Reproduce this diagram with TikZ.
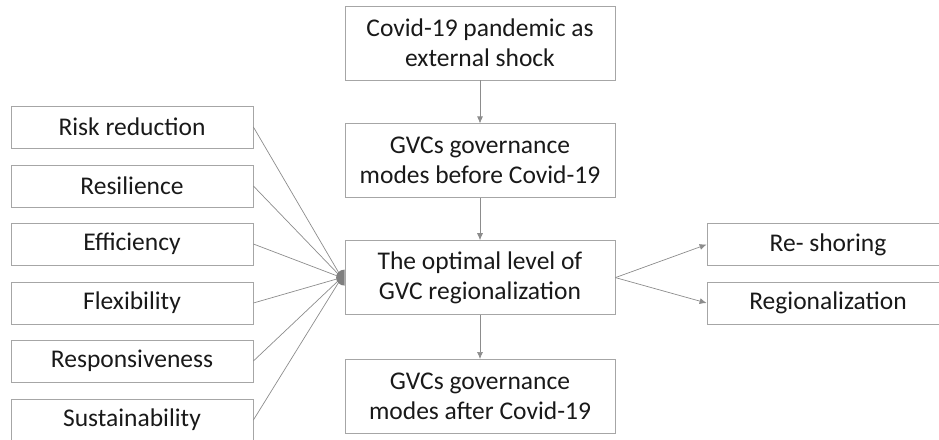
\documentclass[tikz,border=0pt]{standalone}
\usepackage{fontspec}
\setmainfont{Carlito}
\usetikzlibrary{arrows.meta,positioning}
\definecolor{boxgray}{HTML}{A6A6A6}
\definecolor{linegray}{HTML}{8C8C8C}
\definecolor{dotgray}{HTML}{7F7F7F}

\begin{document}
\begin{tikzpicture}[x=1pt,y=1pt,
box/.style={draw=boxgray,line width=0.8pt,minimum width=270pt,
  minimum height=74pt,align=center,text=black!90,
  font=\fontsize{25.5}{30}\selectfont},
side/.style={box,minimum width=242pt,minimum height=42pt},
link/.style={draw=linegray,line width=0.7pt},
flow/.style={link,-{Latex[length=7pt,width=6pt]}}]
\useasboundingbox (0,0) rectangle (939,-439);
\clip (0,0) rectangle (939,-439);
% middle column
\node[box] (shock) at (480,-43) {Covid-19 pandemic as\\external shock};
\node[box,below=43pt of shock] (before) {GVCs governance\\modes before Covid-19};
\node[box,below=42pt of before] (optimal) {The optimal level of\\GVC regionalization};
\node[box,below=44pt of optimal] (after) {GVCs governance\\modes after Covid-19};
% factors
\node[side] (risk) at (132,-127) {Risk reduction};
\node[side] (resil) at (132,-186) {Resilience};
\node[side] (effic) at (132,-244) {Efficiency};
\node[side] (flex) at (132,-303) {Flexibility};
\node[side] (resp) at (132,-361) {Responsiveness};
\node[side] (sust) at (132,-420) {Sustainability};
% outcomes
\node[side] (reshore) at (828,-244.5) {Re- shoring};
\node[side] (region) at (828,-303) {Regionalization};
\coordinate (hub) at ([xshift=-3pt]optimal.west);
\foreach \n in {risk,resil,effic,flex,resp,sust}
  \draw[link] (\n.east) -- (hub);
\fill[dotgray] ([yshift=8pt]optimal.west) arc (90:270:8.5pt and 8pt) -- cycle;
\draw[flow] (shock) -- (before);
\draw[flow] (before) -- (optimal);
\draw[flow] (optimal) -- (after);
\draw[flow] (optimal.east) -- (reshore.west);
\draw[flow] (optimal.east) -- (region.west);
\end{tikzpicture}
\end{document}
